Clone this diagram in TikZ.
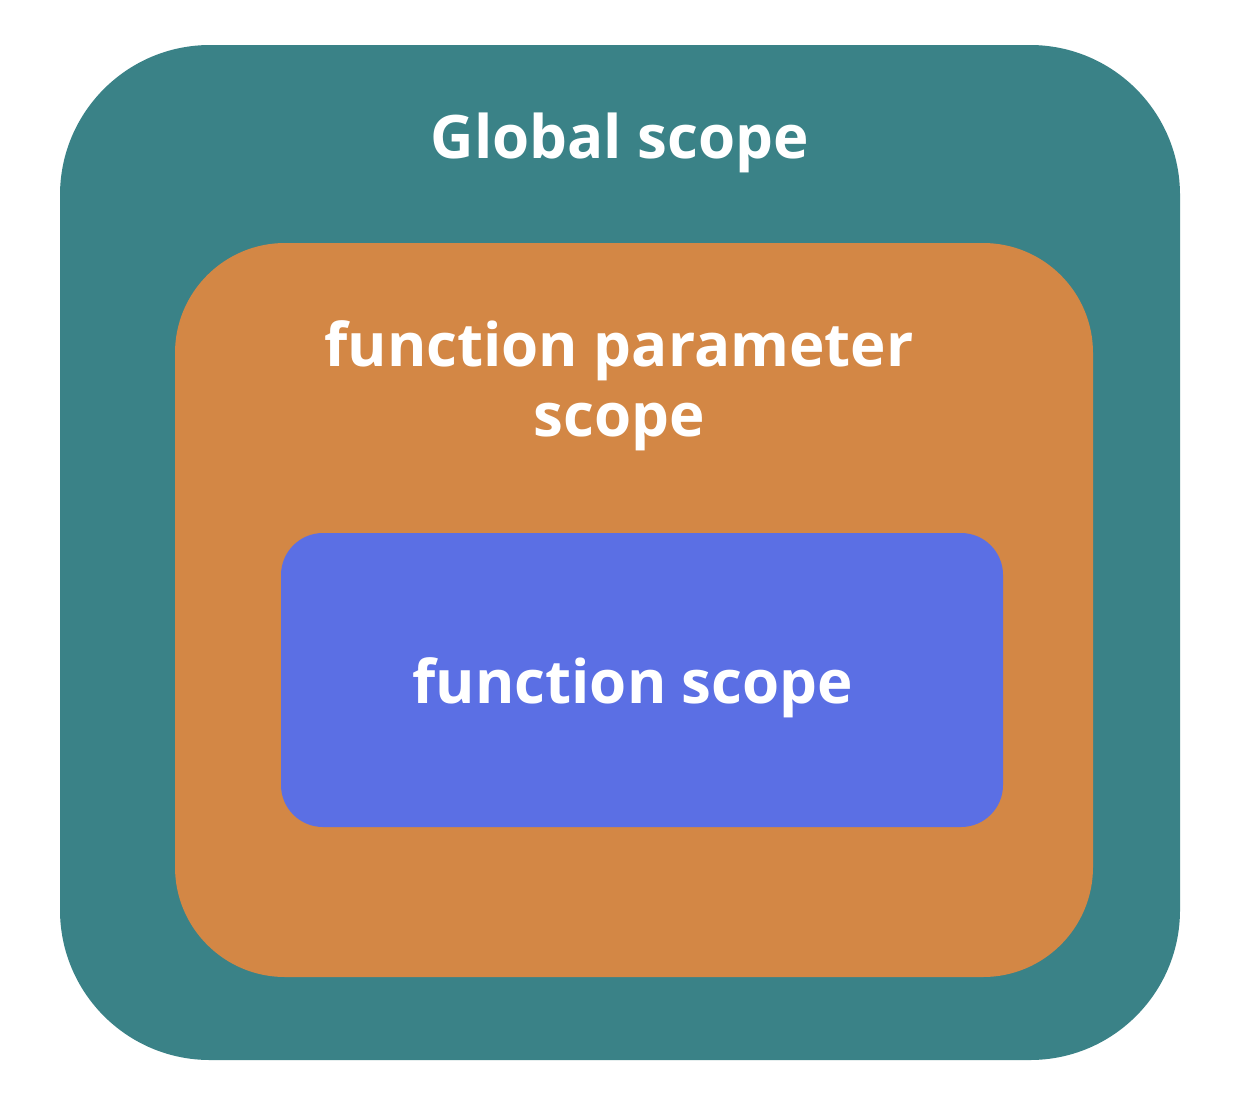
\documentclass[tikz,border=0pt]{standalone}
\usepackage{fontspec}
\setmainfont{Open Sans}
\definecolor{teal}{HTML}{3A8287}
\definecolor{orng}{HTML}{D38745}
\definecolor{blu}{HTML}{5B6FE4}
\begin{document}
\begin{tikzpicture}[x=1pt,y=-1pt,
  lbl/.style={text=white,font=\fontsize{60}{72}\selectfont\bfseries,align=center,inner sep=0pt}]
\useasboundingbox (0,0) rectangle (1238,1100);
\fill[white] (0,0) rectangle (1238,1100);
\fill[teal,rounded corners=150pt] (60,45) rectangle (1180,1060);
\fill[orng,rounded corners=110pt] (175,243) rectangle (1093,977);
\fill[blu,rounded corners=42pt] (281,533) rectangle (1003,827);
\node[lbl] (g) at (620,143) {Global scope};
\node[lbl] (p) at (619,386) {function parameter\\[-2pt]scope};
\node[lbl] (f) at (633,688) {function scope};
\end{tikzpicture}
\end{document}
